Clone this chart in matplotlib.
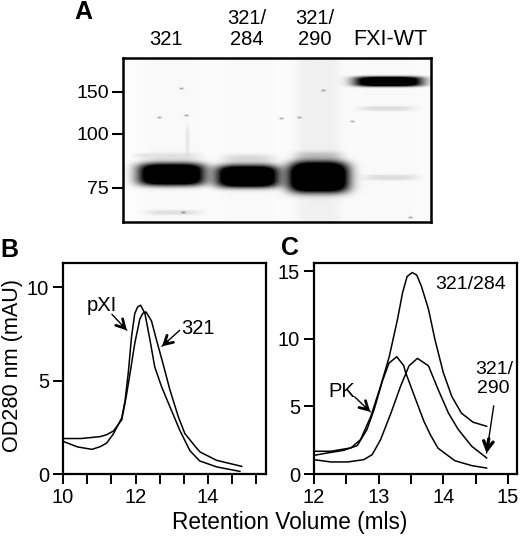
import matplotlib
matplotlib.use("Agg")
import matplotlib.pyplot as plt
import numpy as np

plt.rcParams['font.family'] = ['Liberation Sans', 'DejaVu Sans']

W, H = 520, 537

# panel A, gel lanes and bands
lane_names = ['321', '321/\n284', '321/\n290', 'FXI-WT']
kda_labels = ['150', '100', '75']
kda_rows = [92, 134, 188]

# centre x, centre y, half width, half height, darkness (image pixels)
bands = [
    (171, 174, 33, 11, 1.6), (247, 176, 31, 11, 1.6), (318, 177, 30, 15, 1.7),
    (388, 81, 34, 5, 1.5), (386, 108, 27, 2.5, 0.11), (390, 177, 27, 3, 0.11),
    (173, 212, 27, 2.5, 0.1), (171, 158, 28, 6, 0.1), (248, 160, 26, 6, 0.13),
    (318, 158, 24, 7, 0.2), (140, 155, 8, 2, 0.05), (187, 140, 2, 14, 0.07),
]
# lane smears: centre x, half width, darkness
smears = [(172, 30, 0.015), (248, 28, 0.015), (318, 21, 0.05), (388, 34, 0.012)]
specks = [(181, 88), (159, 117), (186, 115), (281, 118), (299, 117), (323, 90),
          (352, 121), (183, 212), (410, 217)]

# panel B
pxi_x = [10, 10.4, 10.8, 11.02, 11.2, 11.39, 11.62, 11.71, 11.8, 11.89, 11.98, 12.06, 12.14, 12.26, 12.4,
         12.53, 12.72, 12.95, 13.22, 13.5, 13.77, 14.24, 14.88]
pxi_y = [1.75, 1.45, 1.32, 1.46, 1.65, 2.15, 3.0, 3.9, 5.4, 7.34, 8.6, 8.95, 9.04, 8.6, 7.17,
         5.74, 4.67, 3.6, 2.35, 1.25, 0.7, 0.38, 0.14]
b321_x = [10, 10.5, 11.02, 11.2, 11.39, 11.62, 11.74, 11.85, 11.98, 12.12, 12.2, 12.29, 12.44, 12.58,
          12.76, 12.95, 13.18, 13.36, 13.68, 13.78, 14.24, 14.93]
b321_y = [1.9, 1.9, 2.0, 2.1, 2.3, 2.9, 4.1, 5.4, 7.0, 8.3, 8.6, 8.68, 8.2, 7.17,
          5.9, 4.5, 3.07, 2.17, 1.4, 1.18, 0.73, 0.41]
b_major = [10, 12, 14]
b_minor = [10.67, 11.33, 12.67, 13.33, 14.67, 15.33]

# panel C
c284_x = [12, 12.26, 12.57, 12.72, 12.88, 13.03, 13.16, 13.29, 13.37, 13.44, 13.52, 13.59, 13.66, 13.77,
          13.87, 14.0, 14.13, 14.28, 14.46, 14.67]
c284_y = [1.68, 1.68, 1.93, 2.54, 4.27, 6.5, 8.6, 11.4, 13.4, 14.6, 14.9, 14.7, 13.9, 12.2,
          9.95, 7.5, 5.75, 4.5, 3.83, 3.53]
pk_x = [12, 12.2, 12.46, 12.67, 12.82, 12.93, 13.06, 13.16, 13.28, 13.39, 13.41, 13.55, 13.7, 13.8, 13.92,
        14.18, 14.44, 14.67]
pk_y = [1.38, 1.55, 1.75, 2.1, 3.3, 4.77, 6.9, 8.2, 8.67, 8.0, 7.6, 5.8, 3.9, 2.9, 1.9,
        0.98, 0.62, 0.44]
c290_x = [12, 12.26, 12.52, 12.77, 12.9, 13.03, 13.19, 13.34, 13.47, 13.6, 13.77, 13.92, 14.08, 14.23,
          14.44, 14.67]
c290_y = [1.06, 0.89, 0.89, 1.06, 1.43, 2.54, 4.5, 6.5, 8.0, 8.55, 8.0, 6.25, 4.5, 3.3,
          2.05, 1.19]


def px_axes(fig, left, top, right, bottom):
    return fig.add_axes([left / W, 1 - bottom / H, (right - left) / W, (bottom - top) / H])


def gel_image(left, top, right, bottom):
    xx, yy = np.meshgrid(np.arange(left, right), np.arange(top, bottom))
    dark = np.zeros(xx.shape) + 0.012
    for cx, hw, d in smears:
        dark += d / (1 + np.abs((xx - cx) / hw) ** 6)
    for cx, cy, hw, hh, d in bands:
        dark += d * np.exp(-np.abs((xx - cx) / hw) ** 4 - np.abs((yy - cy) / hh) ** 4)
    for sx, sy in specks:
        dark += 0.35 * np.exp(-((xx - sx) / 2.0) ** 2 - ((yy - sy) / 1.0) ** 2)
    return 1 - np.clip(dark, 0, 1)


def arrow(ax, tip, start, lw=1.0, head_lw=2.0, size=0.4):
    style = '->,head_length=%g,head_width=%g' % (size * 1.5, size * 0.85)
    ax.annotate('', xy=tip, xytext=start,
                arrowprops=dict(arrowstyle='-', lw=lw, color='black', shrinkA=0, shrinkB=0))
    near = (tip[0] + (start[0] - tip[0]) * 0.3, tip[1] + (start[1] - tip[1]) * 0.3)
    ax.annotate('', xy=tip, xytext=near,
                arrowprops=dict(arrowstyle=style, lw=head_lw, color='black', shrinkA=0, shrinkB=0))


fig = plt.figure(figsize=(W / 100, H / 100), dpi=100)
FS = 14.5

# A
ax = px_axes(fig, 123, 58, 431, 222)
ax.imshow(gel_image(123, 58, 431, 222), cmap='gray', vmin=0, vmax=1, aspect='auto',
          extent=(123, 431, 222, 58), interpolation='bilinear')
ax.set_xticks([])
ax.set_yticks(kda_rows)
ax.set_yticklabels(kda_labels, fontsize=14)
ax.tick_params(axis='y', length=8, width=1.5, pad=2)
for s in ax.spines.values():
    s.set_linewidth(1.8)
for name, cx, fs in zip(lane_names, [166, 247, 315, 390], [FS, FS, FS, 15.5]):
    ax.text(cx, 45, name, ha='center', va='baseline', fontsize=fs, linespacing=1.1, clip_on=False)
fig.text(83 / W, 1 - 12 / H, 'A', fontsize=18, fontweight='bold', ha='center', va='center')

# B
ax = px_axes(fig, 63, 263, 266, 474)
ax.plot(pxi_x, pxi_y, color='black', lw=1.1)
ax.plot(b321_x, b321_y, color='black', lw=1.1)
ax.set_xlim(10, 15.6)
ax.set_ylim(0, 11.3)
ax.set_xticks(b_major)
ax.set_xticks(b_minor, minor=True)
ax.set_yticks([0, 5, 10])
ax.tick_params(labelsize=FS, length=7, width=1.4, pad=3)
ax.tick_params(which='minor', length=7, width=1.4)
for s in ax.spines.values():
    s.set_linewidth(1.6)
ax.text(10.66, 9.04, 'pXI', fontsize=FS, va='center')
arrow(ax, (11.76, 7.7), (11.35, 8.55))
ax.text(13.27, 7.8, '321', fontsize=FS, va='center')
arrow(ax, (12.73, 6.84), (13.22, 7.7))
fig.text(9 / W, 1 - 250 / H, 'B', fontsize=18, fontweight='bold', ha='center', va='center')

# C
ax = px_axes(fig, 314, 263, 517, 474)
ax.plot(c284_x, c284_y, color='black', lw=1.1)
ax.plot(pk_x, pk_y, color='black', lw=1.1)
ax.plot(c290_x, c290_y, color='black', lw=1.1)
ax.set_xlim(12, 15.14)
ax.set_ylim(0, 15.6)
ax.set_xticks([12, 13, 14, 15])
ax.set_xticks([12.5, 13.5, 14.5], minor=True)
ax.set_yticks([0, 5, 10, 15])
ax.tick_params(labelsize=FS, length=7, width=1.4, pad=3)
ax.tick_params(which='minor', length=7, width=1.4)
for s in ax.spines.values():
    s.set_linewidth(1.6)
ax.text(13.87, 14.0, '321/284', fontsize=14, va='center')
ax.text(12.22, 6.07, 'PK', fontsize=FS, va='center')
arrow(ax, (12.87, 4.6), (12.63, 5.7))
ax.text(14.78, 7.05, '321/\n290', fontsize=14, ha='center', va='center', linespacing=1.15)
arrow(ax, (14.67, 1.55), (14.78, 5.04), head_lw=2.4)
fig.text(290 / W, 1 - 248 / H, 'C', fontsize=18, fontweight='bold', ha='center', va='center')

fig.text(290 / W, 1 - 523 / H, 'Retention Volume (mls)', fontsize=16.3, ha='center', va='center')
fig.text(13 / W, 1 - 365 / H, 'OD280 nm (mAU)', fontsize=15.6, rotation=90, ha='center', va='center')

fig.savefig('out.png', dpi=100)
